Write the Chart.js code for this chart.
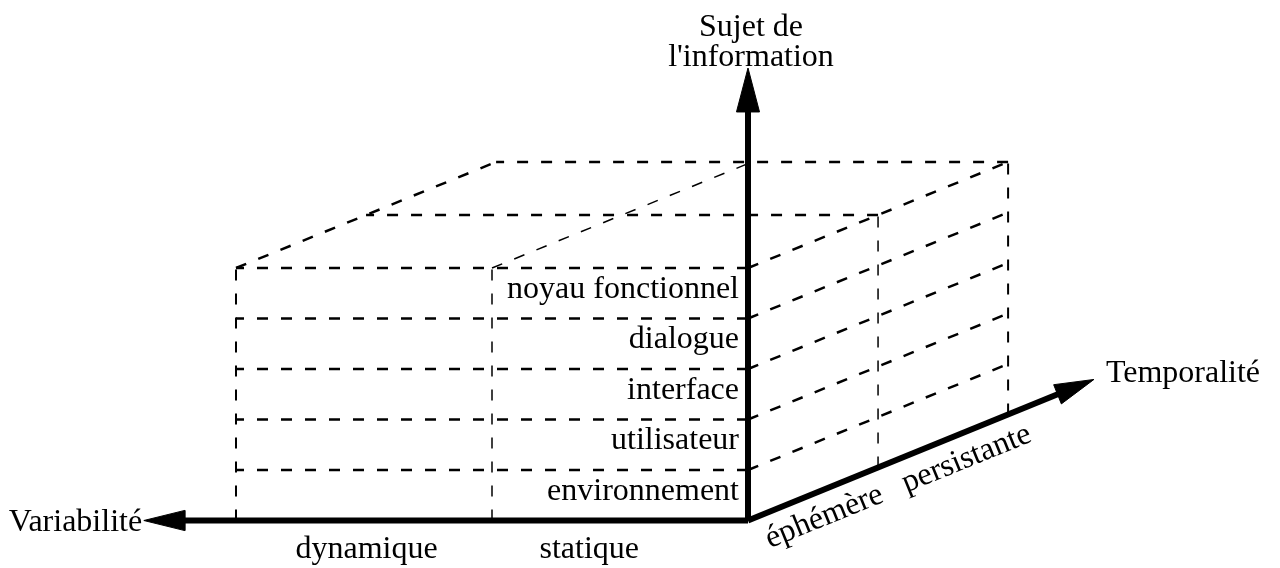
<!DOCTYPE html>
<html>
<head>
<meta charset="utf-8">
<script src="https://cdn.jsdelivr.net/npm/chart.js@4.4.0/dist/chart.umd.min.js"></script>
<style>
  html, body { margin: 0; background: #fff; }
  #wrap { width: 1280px; height: 568px; }
</style>
</head>
<body>
<div id="wrap"><canvas id="cube"></canvas></div>
<script>
// categories of the three axes
const layers = ["environnement", "utilisateur", "interface", "dialogue", "noyau fonctionnel"];
const variabilite = ["statique", "dynamique"];
const temporalite = ["éphémère", "persistante"];
const titleV = "Variabilité";
const titleH = ["Sujet de", "l'information"];
const titleT = "Temporalité";
// where each axis arrow ends (in cells)
const tipV = 2.36, tipH = 8.96, tipT = 2.66;

// oblique projection: v goes left, h goes up, t goes back/right
const DX = 0.508, DY = 1.05;
const proj = (v, h, t) => ({ x: -v + t * DX, y: h + t * DY });

const nV = variabilite.length, nH = layers.length, nT = temporalite.length;
const datasets = [];

function seg(a, b, width) {
  datasets.push({
    data: [a, b], showLine: true, borderColor: "#000", borderWidth: width || 2.5,
    borderDash: [11, 13], pointRadius: 0, fill: false
  });
}

// front face (v/h plane)
for (let h = 1; h <= nH; h++) seg(proj(0, h, 0), proj(nV, h, 0));
for (let v = 1; v <= nV; v++) seg(proj(v, 0, 0), proj(v, nH, 0), v === nV ? 2 : 1.5);
// side face (h/t plane)
for (let h = 1; h <= nH; h++) seg(proj(0, h, 0), proj(0, h, nT));
for (let t = 1; t <= nT; t++) seg(proj(0, 0, t), proj(0, nH, t), t === nT ? 2 : 1.5);
// top face
for (let v = 1; v <= nV; v++) seg(proj(v, nH, 0), proj(v, nH, nT), v === nV ? 2.5 : 1.5);
for (let t = 1; t <= nT; t++) seg(proj(0, nH, t), proj(nV, nH, t));

// the three thick axes with arrow heads
function axis(base, tip, corner1, corner2) {
  datasets.push({
    data: [proj(0, 0, 0), base], showLine: true, borderColor: "#000",
    borderWidth: 6, pointRadius: 0, fill: false
  });
  datasets.push({
    data: [tip, corner1, corner2, tip], showLine: true, borderColor: "#000",
    backgroundColor: "#000", borderWidth: 1, pointRadius: 0, fill: "shape"
  });
}
const hwV = 0.2, hwH = 0.045;
axis(proj(tipV - 0.15, 0, 0), proj(tipV, 0, 0),
     proj(tipV - 0.16, hwV, 0), proj(tipV - 0.16, -hwV, 0));
axis(proj(0, tipH - 0.85, 0), proj(0, tipH, 0),
     { x: -hwH, y: tipH - 0.87 }, { x: hwH, y: tipH - 0.87 });
const bT = proj(0, 0, tipT - 0.28);
axis(proj(0, 0, tipT - 0.26), proj(0, 0, tipT),
     { x: bT.x - 0.015, y: bT.y + 0.19 }, { x: bT.x + 0.015, y: bT.y - 0.19 });

const labelPlugin = {
  id: "labels",
  afterDatasetsDraw(chart) {
    const { ctx, scales: { x, y } } = chart;
    const px = p => [x.getPixelForValue(p.x), y.getPixelForValue(p.y)];
    ctx.save();
    ctx.fillStyle = "#000";
    ctx.font = '32px "Liberation Serif", "DejaVu Serif", serif';
    ctx.textBaseline = "alphabetic";

    // layer names, right aligned against the vertical axis
    ctx.textAlign = "right";
    layers.forEach((name, i) => {
      const [lx, ly] = px(proj(0, i, 0));
      ctx.fillText(name, lx - 9, ly - 21);
    });

    // variability names under the horizontal axis
    ctx.textAlign = "center";
    const vPos = [0.62, 1.49];
    variabilite.forEach((name, i) => {
      const [lx, ly] = px(proj(vPos[i], 0, 0));
      ctx.fillText(name, lx, ly + 37);
    });

    // vertical axis title
    const [hx, hy] = px(proj(0, tipH, 0));
    ctx.fillText(titleH[0], hx + 3, hy - 32);
    ctx.fillText(titleH[1], hx + 3, hy - 2);

    // horizontal axis title
    ctx.textAlign = "left";
    const [vx, vy] = px(proj(tipV, 0, 0));
    ctx.fillText(titleV, vx - 135, vy + 10);

    // depth axis title
    const [tx, ty] = px(proj(0, 0, tipT));
    ctx.fillText(titleT, tx + 12, ty + 3);

    // depth names, rotated along the depth axis
    const [ox, oy] = px(proj(0, 0, 0));
    const [ex, ey] = px(proj(0, 0, nT));
    const ang = Math.atan2(ey - oy, ex - ox);
    const tStart = [0.07, 1.12];
    temporalite.forEach((name, i) => {
      const [sx, sy] = px(proj(0, 0, tStart[i]));
      ctx.save();
      ctx.translate(sx, sy);
      ctx.rotate(ang);
      ctx.fillText(name, 0, 34);
      ctx.restore();
    });
    ctx.restore();
  }
};

new Chart(document.getElementById("cube"), {
  type: "scatter",
  data: { datasets },
  options: {
    responsive: true,
    maintainAspectRatio: false,
    animation: false,
    layout: { padding: 0 },
    plugins: { legend: { display: false }, tooltip: { enabled: false } },
    scales: {
      x: { type: "linear", min: -748 / 256, max: 532 / 256, display: false },
      y: { type: "linear", min: -47.5 / 50.5, max: 520.5 / 50.5, display: false }
    }
  },
  plugins: [labelPlugin]
});
</script>
</body>
</html>
